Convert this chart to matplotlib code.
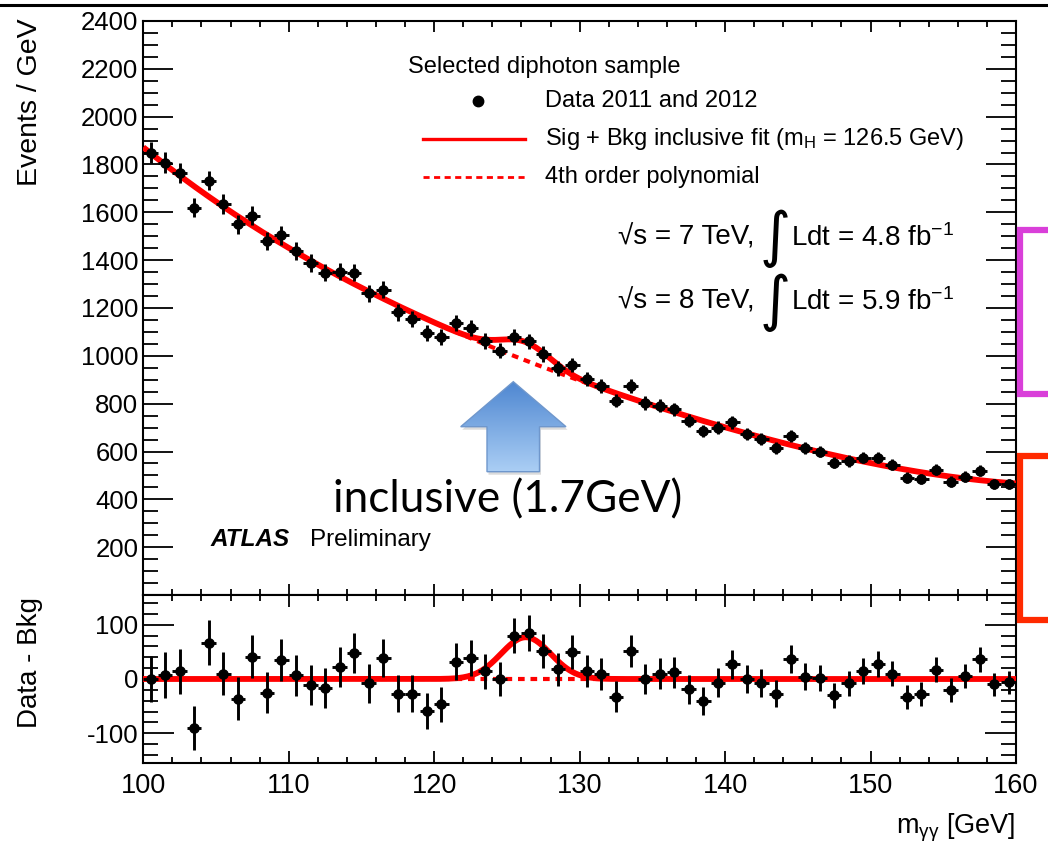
import numpy as np
import matplotlib
matplotlib.use("Agg")
import matplotlib.pyplot as plt
from matplotlib.ticker import MultipleLocator
from matplotlib.patches import Polygon

plt.rcParams['font.family'] = ['Liberation Sans', 'DejaVu Sans']
plt.rcParams['axes.unicode_minus'] = False
plt.rcParams['mathtext.fontset'] = 'custom'
plt.rcParams['mathtext.rm'] = 'Liberation Sans'
plt.rcParams['mathtext.it'] = 'Liberation Sans:italic'

# ---------------- data ----------------
bin_edges = np.arange(100, 161, 1.0)
events = [1850, 1808, 1766, 1620, 1733, 1635, 1550, 1585, 1481, 1504,
          1440, 1387, 1348, 1352, 1348, 1262, 1276, 1182, 1154, 1094,
          1080, 1136, 1115, 1062, 1022, 1078, 1060, 1008, 948, 962,
          903, 875, 813, 874, 802, 792, 777, 728, 686, 700,
          722, 673, 652, 614, 665, 616, 600, 553, 560, 574,
          574, 544, 491, 485, 523, 474, 495, 519, 464, 464]
residuals = [0, 7, 14, -90, 67, 10, -36, 41, -25, 35,
             7, -11, -17, 22, 48, -8, 39, -27, -27, -59,
             -47, 32, 39, 14, 0, 80, 85, 52, 18, 50,
             15, 10, -33, 51, 0, 10, 12, -19, -41, -7,
             27, 0, -7, -27, 37, 4, 2, -30, -8, 15,
             28, 10, -33, -28, 17, -20, 6, 36, -10, -6]
bkg_mass = [100, 105, 110, 115, 120, 125, 130, 135, 140, 145, 150, 155, 160]
bkg_read = [1872, 1645, 1450, 1285, 1140, 1010, 900, 791, 701, 620, 552, 500, 466]
sig_peak = 77.0
sig_mass = 126.3
sig_width = 1.7

x_ticks = [100, 110, 120, 130, 140, 150, 160]

# ---------------- derived ----------------
centers = 0.5 * (bin_edges[:-1] + bin_edges[1:])
ev = np.array(events, float)
err = np.sqrt(ev)
res = np.array(residuals, float)
coef = np.polyfit(np.array(bkg_mass, float), np.array(bkg_read, float), 4)
xf = np.linspace(100, 160, 601)
bkg = np.polyval(coef, xf)
sig = sig_peak * np.exp(-0.5 * ((xf - sig_mass) / sig_width) ** 2)

W, H = 1048, 843
fig = plt.figure(figsize=(W / 100, H / 100), dpi=100)

def fr(x0, y0, x1, y1):
    return [x0 / W, 1 - y1 / H, (x1 - x0) / W, (y1 - y0) / H]

AXL, AXR, AXT, AXB, AXB2 = 143.3, 1016.0, 21.0, 595.0, 763.0
ax = fig.add_axes(fr(AXL, AXT, AXR, AXB))
axr = fig.add_axes(fr(AXL, AXB, AXR, AXB2))

RED = '#ff0000'
MS, ELW = 6.6, 2.1
# ---- top panel ----
ax.plot(xf, bkg, color=RED, lw=3.0, ls=(0, (1.6, 1.4)), zorder=2)
ax.plot(xf, bkg + sig, color=RED, lw=4.2, zorder=3, solid_capstyle='butt')
ax.errorbar(centers, ev, yerr=err, xerr=0.5, fmt='o', color='black', ms=MS,
            elinewidth=ELW, capsize=0, zorder=4)
ax.set_xlim(100, 160)
ax.set_ylim(0, 2400)

# ---- bottom panel ----
axr.plot(xf, np.zeros_like(xf), color=RED, lw=3.0, ls=(0, (1.6, 1.4)), zorder=2)
axr.plot(xf, sig, color=RED, lw=4.2, zorder=3)
axr.errorbar(centers, res, yerr=err, xerr=0.5, fmt='o', color='black', ms=MS,
             elinewidth=ELW, capsize=0, zorder=4)
axr.set_xlim(100, 160)
axr.set_ylim(-155, 155)

for a in (ax, axr):
    for s in a.spines.values():
        s.set_linewidth(1.5)
    a.xaxis.set_major_locator(MultipleLocator(10))
    a.xaxis.set_minor_locator(MultipleLocator(2))
    a.tick_params(which='both', direction='in', top=True, right=True, width=1.3)

ax.yaxis.set_major_locator(MultipleLocator(200))
ax.yaxis.set_minor_locator(MultipleLocator(50))
ax.set_yticks(np.arange(0, 2401, 200))
ax.set_yticklabels([''] + [str(v) for v in range(200, 2401, 200)])
ax.tick_params(axis='y', which='major', length=21.5, labelsize=18.5, pad=3.5)
ax.tick_params(axis='y', which='minor', length=10.8)
ax.tick_params(axis='x', which='major', length=8, labelbottom=False)
ax.tick_params(axis='x', which='minor', length=4)

axr.set_yticks([-100, 0, 100])
axr.set_yticklabels(['-100', '0', '100'])
axr.yaxis.set_minor_locator(MultipleLocator(20))
axr.tick_params(axis='y', which='major', length=22, labelsize=18.5, pad=3.5)
axr.tick_params(axis='y', which='minor', length=10.8)
axr.set_xticks(x_ticks)
axr.set_xticklabels([str(v) for v in x_ticks])
axr.tick_params(axis='x', which='major', length=8.5, labelsize=19.5, pad=7)
axr.tick_params(axis='x', which='minor', length=4.3)

# ---- axis titles ----
fig.text(30 / W, 1 - 18 / H, 'Events / GeV', rotation=90, ha='center', va='top', fontsize=20.5)
fig.text(30 / W, 1 - 597 / H, 'Data - Bkg', rotation=90, ha='center', va='top', fontsize=20)
fig.text(1015 / W, 1 - 834 / H, r'm$_{\mathrm{\gamma\gamma}}$ [GeV]', ha='right', va='baseline',
         fontsize=19.5)

# ---- legend / labels in top axes (pixel helpers) ----
def fx(x):
    return (x - AXL) / (AXR - AXL)

def fy(y):
    return (AXB - y) / (AXB - AXT)

T = ax.transAxes
ax.text(fx(408), fy(67), 'Selected diphoton sample', transform=T, ha='left', va='center', fontsize=17)
ax.plot([fx(478)], [fy(101)], 'o', color='black', ms=7.5, transform=T, clip_on=False)
ax.text(fx(545), fy(101), 'Data 2011 and 2012', transform=T, ha='left', va='center', fontsize=17)
ax.plot([fx(423), fx(525)], [fy(139), fy(139)], color=RED, lw=2.4, transform=T)
ax.text(fx(545), fy(139), r'Sig + Bkg inclusive fit (m$_{\mathrm{H}}$ = 126.5 GeV)', transform=T,
        ha='left', va='center', fontsize=17)
ax.plot([fx(423), fx(525)], [fy(177), fy(177)], color=RED, lw=2.0, ls=(0, (2.2, 1.6)), transform=T)
ax.text(fx(545), fy(177), '4th order polynomial', transform=T, ha='left', va='center', fontsize=17)

for yy, rt, lum in ((238, '7', '4.8'), (302, '8', '5.9')):
    ax.text(fx(618), fy(yy), '\u221as = %s TeV,' % rt, transform=T, ha='left', va='center', fontsize=20)
    ax.text(fx(775), fy(yy + 1), '\u222b', transform=T, ha='center', va='center', fontsize=43,
            family=['DejaVu Sans'])
    ax.text(fx(791), fy(yy), 'Ldt = %s fb$^{\\mathrm{-1}}$' % lum, transform=T, ha='left', va='center',
            fontsize=20)

ax.text(fx(210), fy(540), 'ATLAS', transform=T, ha='left', va='center', fontsize=17.5,
        fontweight='bold', fontstyle='italic')
ax.text(fx(310), fy(540), 'Preliminary', transform=T, ha='left', va='center', fontsize=17.5)

ax.text(fx(333), fy(500), 'inclusive (1.7GeV)', transform=T, ha='left', va='center', fontsize=31.8,
        family=['Lato', 'DejaVu Sans'])

# ---- overlay (slide annotations) ----
ov = fig.add_axes([0, 0, 1, 1], zorder=10)
ov.axis('off')
ov.set_autoscale_on(False)
ov.set_xlim(0, W)
ov.set_ylim(H, 0)

# top slide rule
ov.plot([0, W], [5, 5], color='black', lw=2.2)

# blue arrow with gradient
arrow_pts = [(513.3, 381.7), (566, 426.7), (539.5, 426.7), (539.5, 471.7),
             (487, 471.7), (487, 426.7), (460.7, 426.7)]
shadow = Polygon([(x + 1.5, y + 3) for x, y in arrow_pts], closed=True, fc='#b0b0b0', ec='none',
                 alpha=0.45, zorder=11)
ov.add_patch(shadow)
poly = Polygon(arrow_pts, closed=True, fc='none', ec='#6f97cc', lw=1.0, zorder=13)
ov.add_patch(poly)
c_top = np.array([0.31, 0.53, 0.82])
c_bot = np.array([0.67, 0.81, 0.96])
tt = np.linspace(0, 1, 256)[:, None]
grad = (c_top[None, :] * (1 - tt) + c_bot[None, :] * tt)[:, None, :]
im = ov.imshow(grad, extent=(460, 567, 471.7, 381.7), aspect='auto', zorder=12, interpolation='bilinear')
im.set_clip_path(poly)
ov.set_xlim(0, W)
ov.set_ylim(H, 0)

# brackets
MAG = '#d93fd9'
ORG = '#ff2a00'
ov.plot([W + 5, 1020, 1020, W + 5], [230, 230, 394, 394], color=MAG, lw=4.5,
        solid_joinstyle='miter', clip_on=False)
ov.plot([W + 5, 1020, 1020, W + 5], [456, 456, 620, 620], color=ORG, lw=4.5,
        solid_joinstyle='miter', clip_on=False)

fig.savefig('out.png', dpi=100)
